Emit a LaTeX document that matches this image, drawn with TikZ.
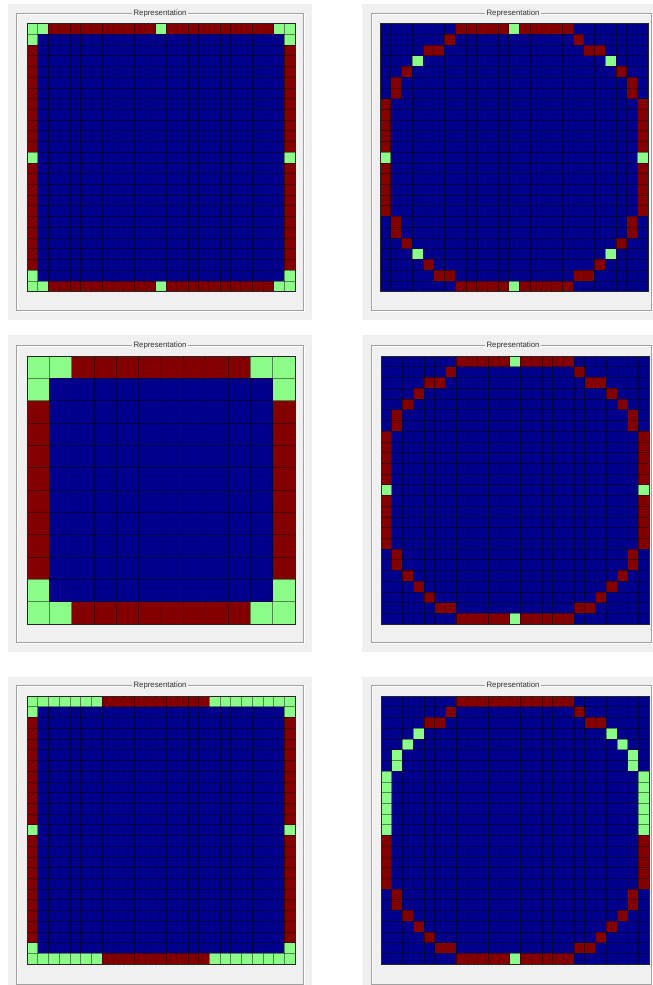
\documentclass[tikz,border=0pt]{standalone}
\usepackage{fontspec}
\newfontfamily\uifont{Liberation Sans}
\definecolor{bluec}{RGB}{0,0,140}
\definecolor{redc}{RGB}{132,0,0}
\definecolor{greenc}{RGB}{138,252,135}
\definecolor{bggrey}{RGB}{240,240,240}
\definecolor{framegrey}{RGB}{160,160,160}
\definecolor{titlegrey}{RGB}{50,50,50}
\tikzset{
  bgbox/.style={fill=bggrey, draw=none},
  frameline/.style={draw=framegrey, line width=0.8pt},
  framehi/.style={draw=white, line width=0.8pt},
  gridl/.style={draw=black, line width=0.5pt, opacity=0.45},
  gridout/.style={draw=black!85, line width=0.6pt},
  titlef/.style={font=\uifont\fontsize{7.8}{8}\selectfont, text=titlegrey, fill=bggrey, inner xsep=1.5pt, inner ysep=0.5pt},
}
% panel frame: #1 name, #2 x0, #3 y0, #4 x1, #5 y1 (frame), #6 title x
\newcommand\myframe[6]{%
  \draw[framehi] (#2+1,#3+1) rectangle (#4+1,#5+1);
  \draw[frameline] (#2,#3) rectangle (#4,#5);
  \node[titlef] (#1) at (#6,#3) {Representation};
}
\newcommand\mycell[3]{\fill[#1] (#2,#3) rectangle ++(1,1);}
\newcommand\mygrid[1]{%
  \foreach \k in {1,...,\numexpr#1-1\relax}{\draw[gridl] (\k,0) -- (\k,#1); \draw[gridl] (0,\k) -- (#1,\k);}
  \draw[gridout] (0,0) rectangle (#1,#1);
}
\newcommand\squareborder[1]{%
  \fill[bluec] (0,0) rectangle (#1,#1);
  \pgfmathtruncatemacro\mylast{#1-1}
  \foreach \i in {0,...,\mylast}{\mycell{redc}{\i}{0}\mycell{redc}{\i}{\mylast}\mycell{redc}{0}{\i}\mycell{redc}{\mylast}{\i}}
}
\newcommand\circleborder{%
  \fill[bluec] (0,0) rectangle (25,25);
  \foreach \i in {7,...,17}{\mycell{redc}{\i}{0}\mycell{redc}{\i}{24}\mycell{redc}{0}{\i}\mycell{redc}{24}{\i}}
  \foreach \i/\j in {6/1,18/1,4/2,5/2,19/2,20/2,3/3,21/3,2/4,22/4,1/5,23/5,1/6,23/6,
                     1/18,23/18,1/19,23/19,2/20,22/20,3/21,21/21,4/22,20/22,5/23,6/23,18/23,19/23}
    {\mycell{redc}{\i}{\j}}
}
\begin{document}
\begin{tikzpicture}[x=1pt,y=-1pt]
\useasboundingbox (0,0) rectangle (653,985);
\fill[white] (0,0) rectangle (653,985);
% backgrounds
\fill[bgbox] (8,4) rectangle (312,320);
\fill[bgbox] (362,4) rectangle (653,320);
\fill[bgbox] (8,335) rectangle (312,652);
\fill[bgbox] (362,335) rectangle (653,652);
\fill[bgbox] (8,677) rectangle (312,985);
\fill[bgbox] (362,677) rectangle (653,985);
% frames
\myframe{t1}{16}{13}{303}{310}{160}
\myframe{t2}{371}{13}{651}{310}{513}
\myframe{t3}{16}{345}{303}{642}{160}
\myframe{t4}{371}{345}{651}{642}{513}
\myframe{t5}{16}{685}{303}{984}{160}
\myframe{t6}{371}{685}{651}{984}{513}

% Panel 1: square 25
\begin{scope}[shift={(27,23.5)},x=10.72pt,y=-10.72pt]
  \squareborder{25}
  \foreach \i/\j in {0/0,1/0,0/1,23/0,24/0,24/1,0/23,0/24,1/24,24/23,23/24,24/24,12/0,0/12,24/12,12/24}
    {\mycell{greenc}{\i}{\j}}
  \mygrid{25}
\end{scope}

% Panel 2: circle 25, 8 greens
\begin{scope}[shift={(380,23.5)},x=10.72pt,y=-10.72pt]
  \circleborder
  \foreach \i/\j in {12/0,12/24,0/12,24/12,3/3,21/3,3/21,21/21}
    {\mycell{greenc}{\i}{\j}}
  \mygrid{25}
\end{scope}

% Panel 3: square 12
\begin{scope}[shift={(27,356)},x=22.33pt,y=-22.33pt]
  \squareborder{12}
  \foreach \i/\j in {0/0,1/0,0/1,10/0,11/0,11/1,0/10,0/11,1/11,11/10,10/11,11/11}
    {\mycell{greenc}{\i}{\j}}
  \mygrid{12}
\end{scope}

% Panel 4: circle 25, 4 greens
\begin{scope}[shift={(381,356)},x=10.72pt,y=-10.72pt]
  \circleborder
  \foreach \i/\j in {12/0,12/24,0/12,24/12}
    {\mycell{greenc}{\i}{\j}}
  \mygrid{25}
\end{scope}

% Panel 5: square 25, long green runs
\begin{scope}[shift={(27,696)},x=10.72pt,y=-10.72pt]
  \squareborder{25}
  \foreach \i in {0,...,6,17,18,19,20,21,22,23,24}{\mycell{greenc}{\i}{0}\mycell{greenc}{\i}{24}}
  \foreach \j in {1,12,23}{\mycell{greenc}{0}{\j}\mycell{greenc}{24}{\j}}
  \mygrid{25}
\end{scope}

% Panel 6: circle 25, green upper sides
\begin{scope}[shift={(381,696)},x=10.72pt,y=-10.72pt]
  \circleborder
  \foreach \i/\j in {12/24,3/3,2/4,1/5,1/6,21/3,22/4,23/5,23/6}
    {\mycell{greenc}{\i}{\j}}
  \foreach \j in {7,...,12}{\mycell{greenc}{0}{\j}\mycell{greenc}{24}{\j}}
  \mygrid{25}
\end{scope}
\end{tikzpicture}
\end{document}
